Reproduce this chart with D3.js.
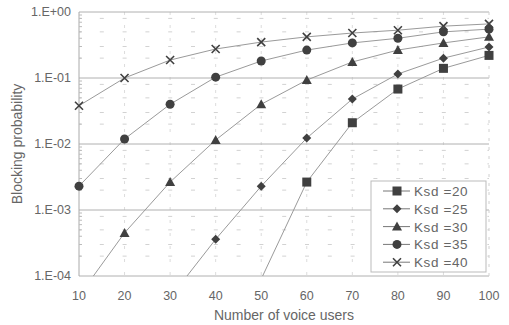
<!DOCTYPE html>
<html>
<head>
  <meta charset="utf-8">
  <title>Blocking probability vs voice users</title>
  <script src="https://d3js.org/d3.v7.min.js"></script>
  <style>
    body { margin: 0; background: #fff; }
    text { font-family: Arial, "Liberation Sans", sans-serif; fill: #666; }
  </style>
</head>
<body>
<svg width="509" height="325"></svg>
<script>
  // chart data
  const users = [10, 20, 30, 40, 50, 60, 70, 80, 90, 100];
  const ksd20 = [null, null, null, null, 0.00009, 0.00265, 0.021, 0.068, 0.14, 0.22];
  const ksd25 = [null, null, 0.000047, 0.00036, 0.0023, 0.0123, 0.048, 0.115, 0.20, 0.295];
  const ksd30 = [0.00005, 0.00045, 0.00265, 0.0115, 0.040, 0.093, 0.175, 0.265, 0.34, 0.42];
  const ksd35 = [0.0023, 0.0119, 0.040, 0.103, 0.181, 0.265, 0.34, 0.40, 0.50, 0.55];
  const ksd40 = [0.038, 0.10, 0.187, 0.275, 0.35, 0.42, 0.48, 0.53, 0.61, 0.66];
  const seriesNames = ["Ksd =20", "Ksd =25", "Ksd =30", "Ksd =35", "Ksd =40"];
  const seriesValues = [ksd20, ksd25, ksd30, ksd35, ksd40];
  const markers = ["square", "diamond", "triangle", "circle", "cross"];
  const yTicks = [1e-4, 1e-3, 1e-2, 1e-1, 1];
  const yTickLabels = ["1.E-04", "1.E-03", "1.E-02", "1.E-01", "1.E+00"];

  const margin = {left: 79, right: 20, top: 12, bottom: 49};
  const width = 509, height = 325;
  const svg = d3.select("svg");

  const x = d3.scaleLinear().domain([10, 100]).range([margin.left, width - margin.right]);
  const y = d3.scaleLog().domain([1e-4, 1]).range([height - margin.bottom, margin.top]);

  svg.append("clipPath").attr("id", "plot")
    .append("rect")
    .attr("x", x(10)).attr("y", y(1))
    .attr("width", x(100) - x(10)).attr("height", y(1e-4) - y(1));

  // minor grid (dashed, faint)
  const minors = [];
  for (let e = -4; e < 0; e++) {
    for (let m = 2; m <= 9; m++) minors.push(m * Math.pow(10, e));
  }
  svg.append("g").selectAll("line").data(minors.filter(d => {
      const m = Math.round(d / Math.pow(10, Math.floor(Math.log10(d) + 1e-9)));
      return m === 2 || m === 3 || m === 5 || m === 8;
    })).enter().append("line")
    .attr("x1", x(10)).attr("x2", x(100))
    .attr("y1", d => y(d)).attr("y2", d => y(d))
    .attr("stroke", "#d2d2d2").attr("stroke-width", 1)
    .attr("stroke-dasharray", "4,18.8").attr("stroke-dashoffset", 2);

  svg.append("g").selectAll("line").data(users.slice(1, -1)).enter().append("line")
    .attr("x1", d => x(d)).attr("x2", d => x(d))
    .attr("y1", y(1)).attr("y2", y(1e-4))
    .attr("stroke", "#dcdcdc").attr("stroke-width", 1)
    .attr("stroke-dasharray", "3,10");

  // decade lines
  svg.append("g").selectAll("line").data(yTicks).enter().append("line")
    .attr("x1", x(10)).attr("x2", x(100))
    .attr("y1", d => y(d)).attr("y2", d => y(d))
    .attr("stroke", "#b0b0b0").attr("stroke-width", 1);

  // frame
  svg.append("line").attr("x1", x(10)).attr("x2", x(10))
    .attr("y1", y(1)).attr("y2", y(1e-4)).attr("stroke", "#aaa");
  svg.append("line").attr("x1", x(100)).attr("x2", x(100))
    .attr("y1", y(1)).attr("y2", y(1e-4)).attr("stroke", "#d0d0d0")
    .attr("stroke-dasharray", "3,6");

  // left axis minor ticks
  svg.append("g").selectAll("line").data(minors).enter().append("line")
    .attr("x1", x(10)).attr("x2", x(10) + 3)
    .attr("y1", d => y(d)).attr("y2", d => y(d))
    .attr("stroke", "#bbb");

  // tick labels
  svg.append("g").selectAll("text").data(yTicks).enter().append("text")
    .attr("x", x(10) - 8).attr("y", d => y(d) + 4)
    .attr("text-anchor", "end").attr("font-size", 12.5)
    .text((d, i) => yTickLabels[i]);

  svg.append("g").selectAll("text").data(users).enter().append("text")
    .attr("x", d => x(d)).attr("y", y(1e-4) + 24)
    .attr("text-anchor", "middle").attr("font-size", 12.5)
    .text(d => d);

  svg.append("text").attr("x", (x(10) + x(100)) / 2).attr("y", 320)
    .attr("text-anchor", "middle").attr("font-size", 14)
    .text("Number of voice users");

  svg.append("text")
    .attr("transform", "translate(22," + ((y(1) + y(1e-4)) / 2) + ") rotate(-90)")
    .attr("text-anchor", "middle").attr("font-size", 14)
    .text("Blocking probability");

  // marker drawing
  function drawMarker(g, type, cx, cy) {
    const c = "#404040";
    if (type === "square") {
      g.append("rect").attr("x", cx - 4.5).attr("y", cy - 4.5)
        .attr("width", 9).attr("height", 9).attr("fill", c);
    } else if (type === "diamond") {
      g.append("path").attr("d", `M${cx},${cy - 4.5}L${cx + 4.5},${cy}L${cx},${cy + 4.5}L${cx - 4.5},${cy}Z`)
        .attr("fill", c);
    } else if (type === "triangle") {
      g.append("path").attr("d", `M${cx},${cy - 5}L${cx + 5},${cy + 4}L${cx - 5},${cy + 4}Z`)
        .attr("fill", c);
    } else if (type === "circle") {
      g.append("circle").attr("cx", cx).attr("cy", cy).attr("r", 4.5).attr("fill", c);
    } else {
      g.append("path").attr("d", `M${cx - 4},${cy - 4}L${cx + 4},${cy + 4}M${cx - 4},${cy + 4}L${cx + 4},${cy - 4}`)
        .attr("stroke", c).attr("stroke-width", 1.6).attr("fill", "none");
    }
  }

  const line = d3.line()
    .defined(d => d.v != null)
    .x(d => x(d.u)).y(d => y(d.v));

  const plot = svg.append("g").attr("clip-path", "url(#plot)");
  seriesValues.forEach((vals, i) => {
    const pts = users.map((u, j) => ({u: u, v: vals[j]}));
    plot.append("path").datum(pts)
      .attr("d", line).attr("fill", "none")
      .attr("stroke", "#9a9a9a").attr("stroke-width", 1);
  });
  seriesValues.forEach((vals, i) => {
    const g = svg.append("g");
    users.forEach((u, j) => {
      const v = vals[j];
      if (v != null && v >= 1e-4) drawMarker(g, markers[i], x(u), y(v));
    });
  });

  // legend
  const lg = svg.append("g").attr("transform", "translate(371,181)");
  lg.append("rect").attr("width", 115).attr("height", 91)
    .attr("fill", "#fff").attr("stroke", "#bbb");
  seriesNames.forEach((name, i) => {
    const ry = 10 + i * 17.8;
    lg.append("line").attr("x1", 12).attr("x2", 39).attr("y1", ry).attr("y2", ry)
      .attr("stroke", "#777").attr("stroke-width", 1);
    drawMarker(lg, markers[i], 26, ry);
    lg.append("text").attr("x", 43).attr("y", ry + 5).attr("font-size", 13.5)
      .attr("letter-spacing", 0.6).text(name);
  });
</script>
</body>
</html>
